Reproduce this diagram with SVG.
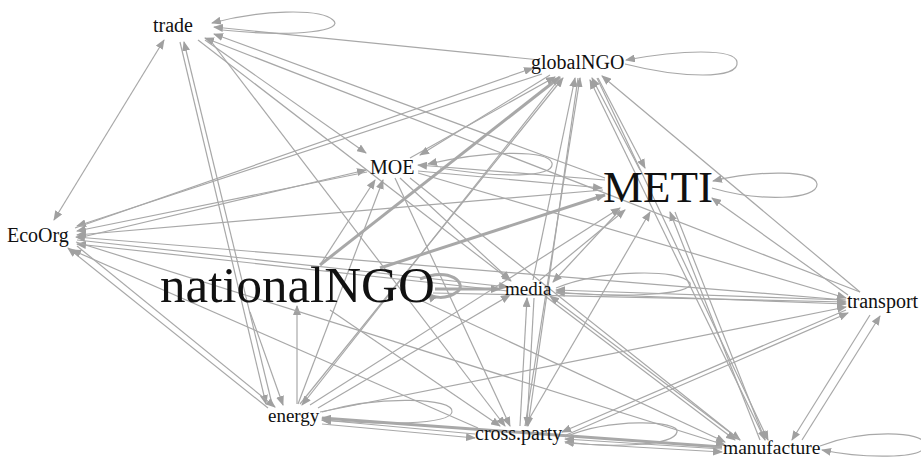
<svg xmlns="http://www.w3.org/2000/svg" width="921" height="458" viewBox="0 0 921 458">
<defs>
<marker id="ah" markerUnits="userSpaceOnUse" markerWidth="10" markerHeight="8" refX="9" refY="4" orient="auto-start-reverse">
<path d="M0,0 L10,4 L0,8 z" fill="#a0a0a0"/>
</marker>
</defs>
<style>
.e{stroke:#a8a8a8;stroke-width:1.2;fill:none;marker-end:url(#ah)}
.b{marker-start:url(#ah)}
.t{stroke-width:3}
.l{font-family:"Liberation Serif","Times New Roman",serif;fill:#111}
</style>
<rect width="921" height="458" fill="#fff"/>
<g id="connectors">
<!-- trade -->
<line class="e b" x1="54" y1="220" x2="164" y2="40"/>
<line class="e" x1="272" y1="404" x2="184" y2="42"/>
<line class="e" x1="180" y1="42" x2="266" y2="404"/>
<line class="e" x1="540" y1="60" x2="214" y2="27"/>
<line class="e" x1="605" y1="178" x2="214" y2="34"/>
<line class="e" x1="860" y1="292" x2="205" y2="38"/>
<line class="e" x1="205" y1="40" x2="366" y2="153"/>
<line class="e" x1="198" y1="40" x2="511" y2="281"/>
<path class="e" d="M222,30 C300,38 345,30 333,20 C320,8 260,10 212,23"/>
<!-- EcoOrg -->
<line class="e" x1="542" y1="74" x2="77" y2="226"/>
<line class="e" x1="367" y1="172" x2="77" y2="231"/>
<line class="e" x1="78" y1="238" x2="366" y2="170"/>
<line class="e" x1="603" y1="190" x2="77" y2="235"/>
<line class="e" x1="77" y1="240" x2="508" y2="287"/>
<line class="e" x1="508" y1="291" x2="77" y2="244"/>
<line class="e" x1="845" y1="300" x2="76" y2="237"/>
<line class="e" x1="268" y1="408" x2="68" y2="248"/>
<line class="e" x1="478" y1="428" x2="72" y2="250"/>
<line class="e" x1="75" y1="228" x2="533" y2="68"/>
<!-- globalNGO -->
<line class="e t" x1="320" y1="265" x2="560" y2="77"/>
<line class="e" x1="410" y1="158" x2="555" y2="77"/>
<line class="e" x1="300" y1="404" x2="563" y2="78"/>
<line class="e" x1="533" y1="280" x2="575" y2="78"/>
<line class="e" x1="525" y1="426" x2="580" y2="78"/>
<line class="e" x1="578" y1="78" x2="528" y2="426"/>
<line class="e" x1="640" y1="170" x2="592" y2="78"/>
<line class="e" x1="598" y1="78" x2="645" y2="168"/>
<line class="e" x1="765" y1="440" x2="590" y2="80"/>
<line class="e" x1="597" y1="78" x2="768" y2="440"/>
<line class="e" x1="860" y1="292" x2="602" y2="76"/>
<line class="e" x1="560" y1="78" x2="302" y2="405"/>
<line class="e" x1="550" y1="75" x2="420" y2="155"/>
<path class="e" d="M625,64 C680,78 740,80 737,62 C735,48 680,50 626,60"/>
<!-- MOE -->
<path class="e" d="M440,168 C500,178 555,178 552,163 C548,150 490,150 428,164"/>
<line class="e" x1="605" y1="180" x2="418" y2="165"/>
<line class="e" x1="418" y1="171" x2="602" y2="188"/>
<line class="e" x1="400" y1="178" x2="510" y2="280"/>
<line class="e" x1="395" y1="178" x2="510" y2="426"/>
<line class="e" x1="418" y1="173" x2="846" y2="298"/>
<line class="e" x1="298" y1="404" x2="383" y2="180"/>
<line class="e" x1="320" y1="265" x2="375" y2="180"/>
<line class="e" x1="410" y1="178" x2="740" y2="440"/>
<!-- METI -->
<path class="e" d="M712,188 C760,202 818,200 817,184 C816,170 760,170 713,181"/>
<line class="e t" x1="380" y1="268" x2="605" y2="195"/>
<line class="e" x1="540" y1="280" x2="625" y2="210"/>
<line class="e" x1="620" y1="210" x2="553" y2="282"/>
<line class="e" x1="525" y1="426" x2="650" y2="212"/>
<line class="e" x1="310" y1="405" x2="620" y2="208"/>
<line class="e" x1="760" y1="440" x2="670" y2="212"/>
<line class="e" x1="675" y1="212" x2="765" y2="440"/>
<line class="e" x1="848" y1="295" x2="712" y2="198"/>
<!-- media -->
<path class="e" d="M556,288 C600,270 680,268 690,283 C695,295 620,298 556,292"/>
<line class="e t" x1="435" y1="289" x2="500" y2="289"/>
<line class="e" x1="846" y1="300" x2="556" y2="290"/>
<line class="e" x1="556" y1="293" x2="846" y2="304"/>
<line class="e" x1="520" y1="426" x2="527" y2="298"/>
<line class="e" x1="534" y1="298" x2="527" y2="426"/>
<line class="e" x1="318" y1="408" x2="510" y2="295"/>
<line class="e" x1="740" y1="440" x2="550" y2="296"/>
<line class="e" x1="545" y1="296" x2="735" y2="440"/>
<path class="e t" d="M420,279 C450,266 468,284 457,292 C446,300 432,298 428,293"/>
<!-- transport -->
<line class="e" x1="846" y1="310" x2="562" y2="432"/>
<line class="e" x1="564" y1="436" x2="848" y2="313"/>
<line class="e" x1="870" y1="315" x2="792" y2="440"/>
<line class="e" x1="802" y1="440" x2="880" y2="316"/>
<line class="e" x1="320" y1="412" x2="846" y2="307"/>
<line class="e" x1="433" y1="293" x2="846" y2="302"/>
<!-- energy -->
<path class="e" d="M322,412 C380,395 455,398 452,412 C450,425 380,425 322,420"/>
<line class="e" x1="475" y1="434" x2="322" y2="420"/>
<line class="e" x1="322" y1="424" x2="475" y2="438"/>
<line class="e t" x1="722" y1="447" x2="322" y2="418"/>
<line class="e" x1="250" y1="312" x2="283" y2="405"/>
<line class="e" x1="297" y1="404" x2="297" y2="306"/>
<line class="e" x1="77" y1="246" x2="275" y2="407"/>
<!-- cross.party -->
<path class="e" d="M565,437 C610,418 680,420 677,432 C674,446 610,448 565,442"/>
<line class="e" x1="722" y1="449" x2="565" y2="439"/>
<line class="e" x1="565" y1="443" x2="722" y2="452"/>
<line class="e" x1="330" y1="310" x2="500" y2="426"/>
<line class="e" x1="210" y1="40" x2="505" y2="426"/>
<!-- manufacture -->
<path class="e" d="M820,446 C860,430 925,430 925,445 C925,460 860,458 822,450"/>
<line class="e" x1="420" y1="300" x2="725" y2="442"/>
<line class="e" x1="76" y1="242" x2="725" y2="445"/>
</g>
<g id="trade"><text class="l" x="153" y="32" font-size="20">trade</text></g>
<g id="globalNGO"><text class="l" x="531" y="69" font-size="20">globalNGO</text></g>
<g id="MOE"><text class="l" x="370" y="174" font-size="20">MOE</text></g>
<g id="METI"><text class="l" x="603" y="202" font-size="45">METI</text></g>
<g id="EcoOrg"><text class="l" x="7" y="242" font-size="20">EcoOrg</text></g>
<g id="nationalNGO"><text class="l" x="160" y="302" font-size="51">nationalNGO</text></g>
<g id="media"><text class="l" x="505" y="295" font-size="19">media</text></g>
<g id="transport"><text class="l" x="847" y="308" font-size="20">transport</text></g>
<g id="energy"><text class="l" x="268" y="422" font-size="19">energy</text></g>
<g id="cross.party"><text class="l" x="475" y="440" font-size="20">cross.party</text></g>
<g id="manufacture"><text class="l" x="723" y="454" font-size="19.5">manufacture</text></g>
</svg>
